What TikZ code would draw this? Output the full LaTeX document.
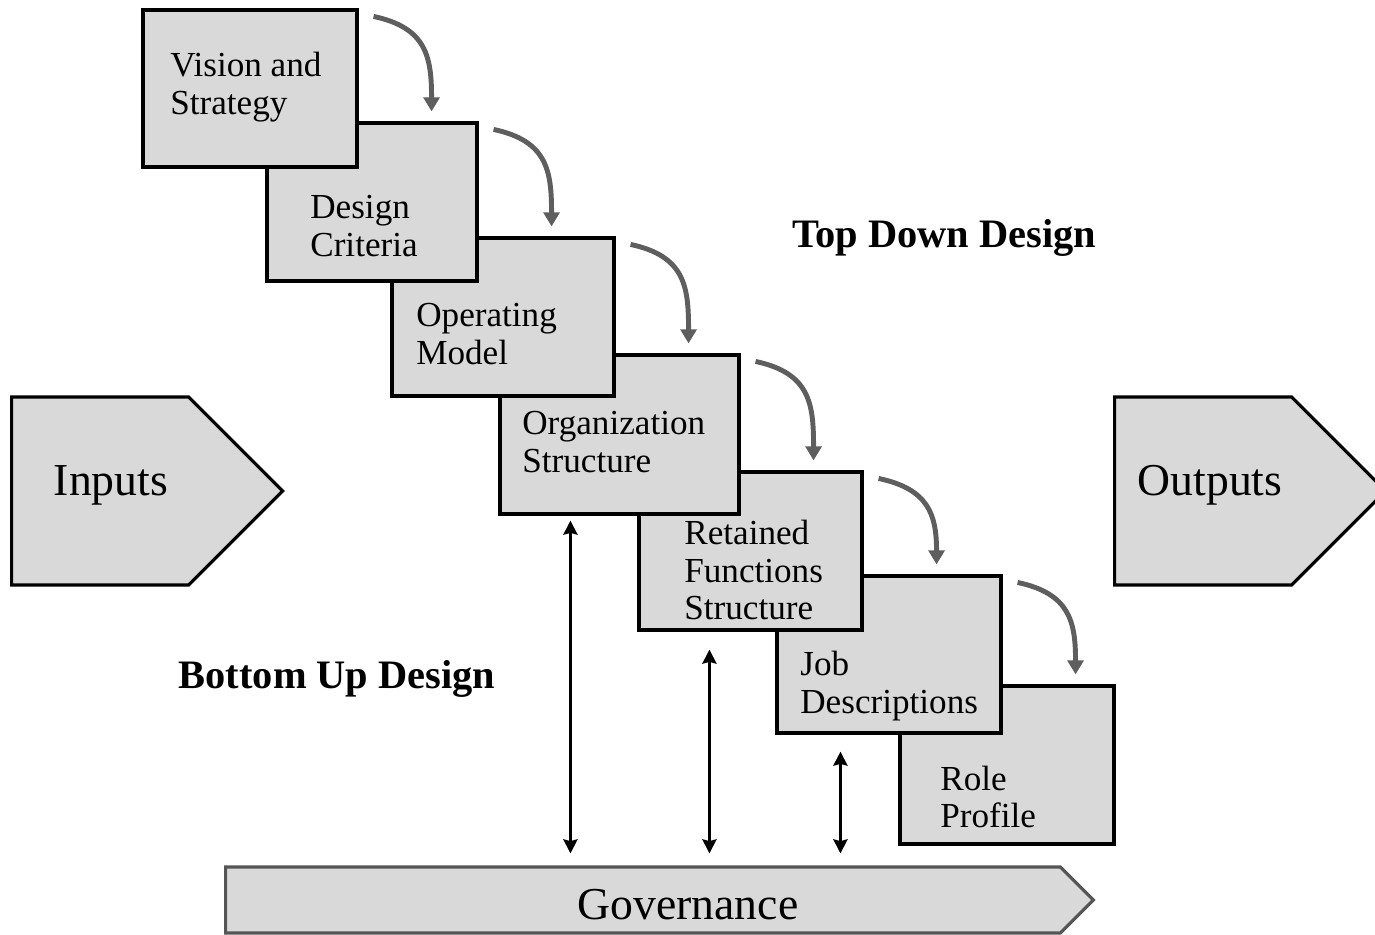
\documentclass[tikz,border=0pt]{standalone}
\usepackage{fontspec}
\setmainfont{Liberation Serif}
\usetikzlibrary{positioning}
\usetikzlibrary{shapes.symbols}
\usetikzlibrary{arrows.meta,calc}

\definecolor{boxgray}{HTML}{D9D9D9}
\definecolor{arrowgray}{HTML}{5E5E5E}
\definecolor{govgray}{HTML}{555555}

\tikzset{
  stage/.style={draw=black, line width=1.8pt, fill=boxgray, inner sep=0pt},
  stagetext/.style={anchor=west, align=left, inner sep=0pt, font=\fontsize{20}{21.5}\selectfont},
  flow/.style={signal, signal to=east, signal pointer angle=90, anchor=west, draw=black, line width=1.8pt, fill=boxgray, inner sep=0pt},
  bigtext/.style={inner sep=0pt, font=\fontsize{26}{30}\selectfont},
  headtext/.style={inner sep=0pt, font=\fontsize{23}{26}\selectfont\bfseries},
  stepcurve/.style={draw=arrowgray, line width=2.8pt, -{Triangle[length=8pt,width=9pt]}, looseness=1.25},
  link/.style={line width=1.7pt, {Stealth[length=8pt,width=8pt,inset=1pt]}-{Stealth[length=8pt,width=8pt,inset=1pt]}}
}

\begin{document}
\begin{tikzpicture}[x=0.02cm, y=-0.02cm]
\useasboundingbox (0,0) rectangle (1375,934);

%stages, last one first so that each lies over the next
\node[stage, minimum width=4.28cm, minimum height=3.16cm] (role) at (1007,765) {};
\node[stagetext] (roletxt) at (940,797) {Role\\Profile};
\node[stage, minimum width=4.48cm, minimum height=3.14cm] (jobdesc) at (889,654.5) {};
\node[stagetext] (jobdesctxt) at (800,686) {Job\\Descriptions};
\node[stage, minimum width=4.46cm, minimum height=3.16cm] (retained) at (750.5,551) {};
\node[stagetext] (retainedtxt) at (684,570) {Retained\\Functions\\Structure};
\node[stage, minimum width=4.78cm, minimum height=3.18cm] (orgstruct) at (619.5,434.5) {};
\node[stagetext] (orgstructtxt) at (522,442) {Organization\\Structure};
\node[stage, minimum width=4.44cm, minimum height=3.16cm] (opmodel) at (503,317) {};
\node[stagetext] (opmodeltxt) at (416,334) {Operating\\Model};
\node[stage, minimum width=4.20cm, minimum height=3.16cm] (criteria) at (372,202) {};
\node[stagetext] (criteriatxt) at (310,226) {Design\\Criteria};
\node[stage, minimum width=4.28cm, minimum height=3.14cm] (vision) at (250,88.5) {};
\node[stagetext] (visiontxt) at (170,87) {Vision and\\Strategy};

%top down arrows
\foreach \a/\b in {vision/criteria, criteria/opmodel, opmodel/orgstruct, orgstruct/retained, retained/jobdesc, jobdesc/role}{
  \draw[stepcurve] ($(\a.north east)+(15,8)$) to[out=-12, in=90] ($(\a.north east |- \b.north)+(73,-10)$);
}

%inputs, outputs, governance
\node[flow, minimum width=5.42cm, minimum height=3.76cm] (inputs) at (10,491) {};
\node[bigtext] (inputstxt) at (111,485) {Inputs};
\node[flow, minimum width=5.42cm, minimum height=3.76cm] (outputs) at (1113,491) {};
\node[bigtext] (outputstxt) at (1210,485) {Outputs};
\node[flow, draw=govgray, minimum width=17.36cm, minimum height=1.32cm] (gov) at (224,900) {};
\node[bigtext] (govtxt) at (688,905) {Governance};

%bottom up links
\draw[link] ($(orgstruct.south west)+(72,5)$) -- ($(orgstruct.south west |- gov.north)+(72,-12)$);
\draw[link] ($(retained.south west)+(72,18)$) -- ($(retained.south west |- gov.north)+(72,-12)$);
\draw[link] ($(jobdesc.south west)+(65,17)$) -- ($(jobdesc.south west |- gov.north)+(65,-12)$);

%headings
\node[headtext] (topdown) at (944,238) {Top Down Design};
\node[headtext] (bottomup) at (337,679) {Bottom Up Design};
\end{tikzpicture}
\end{document}
